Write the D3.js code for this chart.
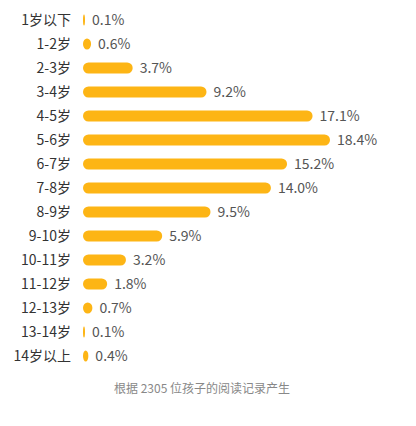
<!DOCTYPE html><html><head><meta charset="utf-8"><script src="https://cdn.jsdelivr.net/npm/d3@7"></script>
<style>body{margin:0;background:#fff}</style></head><body><svg id="c" width="416" height="426"></svg><script>
const categories=["1岁以下","1-2岁","2-3岁","3-4岁","4-5岁","5-6岁","6-7岁","7-8岁","8-9岁","9-10岁","10-11岁","11-12岁","12-13岁","13-14岁","14岁以上"];
const values=[0.1,0.6,3.7,9.2,17.1,18.4,15.2,14.0,9.5,5.9,3.2,1.8,0.7,0.1,0.4];
const caption="根据 2305 位孩子的阅读记录产生";
const svg=d3.select("#c");
const font="'Noto Sans CJK SC','Noto Sans',sans-serif";
const x=d3.scaleLinear().domain([0,18.4]).range([83,330]);
const y=d3.scaleBand().domain(categories).range([8,368]).paddingInner(0.5).paddingOuter(0.25);
const h=11;
const g=svg.selectAll("g.r").data(categories).join("g");
g.append("text").attr("x",71).attr("y",d=>y(d)+y.bandwidth()/2).attr("dy","0.35em").attr("text-anchor","end")
 .attr("font-family",font).attr("font-size",14).attr("fill","#333").text(d=>d);
g.append("rect").attr("x",83).attr("y",(d)=>y(d)+y.bandwidth()/2-h/2).attr("height",h)
 .attr("width",(d,i)=>Math.max(2,x(values[i])-83)).attr("rx",(d,i)=>Math.min(h/2,Math.max(1,(x(values[i])-83)/2))).attr("ry",h/2).attr("fill","#FDB515");
g.append("text").attr("x",(d,i)=>83+Math.max(2,x(values[i])-83)+7).attr("y",d=>y(d)+y.bandwidth()/2).attr("dy","0.35em")
 .attr("font-family",font).attr("font-size",14).attr("fill","#555").text((d,i)=>values[i].toFixed(1)+"%");
svg.append("text").attr("x",202).attr("y",393).attr("text-anchor","middle").attr("font-family",font).attr("font-size",12).attr("fill","#888").text(caption);
</script></body></html>
